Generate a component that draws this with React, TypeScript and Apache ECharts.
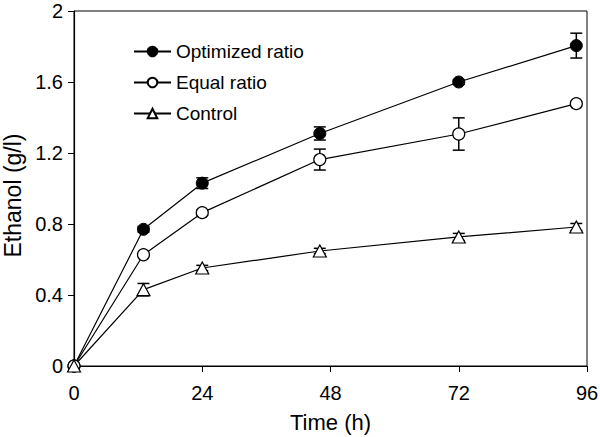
import React, { useEffect, useRef } from "react";
import * as echarts from "echarts";

const times = [0, 13, 24, 46, 72, 94];
const optimized = [0, 0.77, 1.03, 1.31, 1.6, 1.805];
const optimizedErr = [0, 0.015, 0.03, 0.037, 0.012, 0.07];
const equal = [0, 0.627, 0.864, 1.163, 1.307, 1.478];
const equalErr = [0, 0.01, 0.015, 0.059, 0.091, 0.012];
const control = [0, 0.43, 0.552, 0.648, 0.727, 0.783];
const controlErr = [0, 0.035, 0.015, 0.015, 0.02, 0.02];
const xTicks = [0, 24, 48, 72, 96];
const yTicks = [0, 0.4, 0.8, 1.2, 1.6, 2];

const FONT = "Liberation Sans, Arial, Helvetica, sans-serif";

function pairs(ys: number[]) {
  return times.map((t, i) => [t, ys[i]]);
}
function errs(ys: number[], es: number[]) {
  return times.map((t, i) => [t, ys[i] - es[i], ys[i] + es[i]]).filter((d, i) => es[i] > 0.011);
}

function errorSeries(ys: number[], es: number[]) {
  return {
    type: "custom",
    z: 1,
    silent: true,
    data: errs(ys, es),
    renderItem: (params: any, api: any) => {
      const x = api.value(0);
      const lo = api.coord([x, api.value(1)]);
      const hi = api.coord([x, api.value(2)]);
      const hw = 6;
      const style = { stroke: "#000", lineWidth: 1.5 };
      return {
        type: "group",
        children: [
          { type: "line", shape: { x1: lo[0], y1: lo[1], x2: hi[0], y2: hi[1] }, style },
          { type: "line", shape: { x1: lo[0] - hw, y1: lo[1], x2: lo[0] + hw, y2: lo[1] }, style },
          { type: "line", shape: { x1: hi[0] - hw, y1: hi[1], x2: hi[0] + hw, y2: hi[1] }, style },
        ],
      };
    },
  };
}

export default function App() {
  const ref = useRef<HTMLDivElement>(null);
  useEffect(() => {
    if (!ref.current) return;
    const chart = echarts.init(ref.current, undefined, { renderer: "svg" });
    const lineStyle = { color: "#000", width: 1.2 };
    chart.setOption({
      animation: false,
      backgroundColor: "#fff",
      textStyle: { fontFamily: FONT },
      grid: {
        left: 74,
        right: 13,
        top: 11,
        bottom: 71,
        containLabel: false,
        outerBoundsMode: "none",
        show: true,
        borderColor: "#000",
        borderWidth: 1,
        backgroundColor: "transparent",
      },
      legend: {
        orient: "vertical",
        left: 128,
        top: 37,
        itemWidth: 37,
        itemHeight: 12,
        itemGap: 12,
        textStyle: { fontSize: 19, color: "#000", fontFamily: FONT },
        data: ["Optimized ratio", "Equal ratio", "Control"],
      },
      xAxis: {
        type: "value",
        min: 0,
        max: 96,
        interval: 24,
        name: "Time (h)",
        nameLocation: "middle",
        nameGap: 45,
        nameTextStyle: { fontSize: 22, color: "#000", fontFamily: FONT },
        axisLine: { lineStyle: { color: "#000", width: 1.2 } },
        axisTick: { show: true, length: 6, lineStyle: { color: "#000" } },
        axisLabel: {
          fontSize: 20,
          color: "#000",
          margin: 17,
          fontFamily: FONT,
          customValues: xTicks,
        },
        splitLine: { show: false },
      },
      yAxis: {
        type: "value",
        min: 0,
        max: 2,
        interval: 0.4,
        name: "Ethanol (g/l)",
        nameLocation: "middle",
        nameGap: 49,
        nameTextStyle: { fontSize: 23, color: "#000", fontFamily: FONT, padding: [0, 0, 0, -14] },
        axisLine: { show: true, lineStyle: { color: "#000", width: 1.2 } },
        axisTick: { show: true, length: 6, lineStyle: { color: "#000" } },
        axisLabel: {
          fontSize: 20,
          color: "#000",
          margin: 11,
          fontFamily: FONT,
          formatter: (v: number) => String(parseFloat(v.toFixed(1))),
          customValues: yTicks,
        },
        splitLine: { show: false },
      },
      series: [
        errorSeries(optimized, optimizedErr),
        errorSeries(equal, equalErr),
        errorSeries(control, controlErr),
        {
          name: "Optimized ratio",
          type: "line",
          z: 3,
          data: pairs(optimized),
          symbol: "circle",
          symbolSize: 12,
          lineStyle,
          itemStyle: { color: "#000", borderColor: "#000", borderWidth: 1 },
        },
        {
          name: "Equal ratio",
          type: "line",
          z: 3,
          data: pairs(equal),
          symbol: "circle",
          symbolSize: 12,
          lineStyle,
          itemStyle: { color: "#fff", borderColor: "#000", borderWidth: 1.2 },
        },
        {
          name: "Control",
          type: "line",
          z: 3,
          data: pairs(control),
          symbol: "triangle",
          symbolSize: [13, 12],
          lineStyle,
          itemStyle: { color: "#fff", borderColor: "#000", borderWidth: 1.2 },
        },
      ],
    });
    return () => chart.dispose();
  }, []);
  return <div ref={ref} style={{ width: 600, height: 437, position: "absolute", left: 0, top: 0 }} />;
}
